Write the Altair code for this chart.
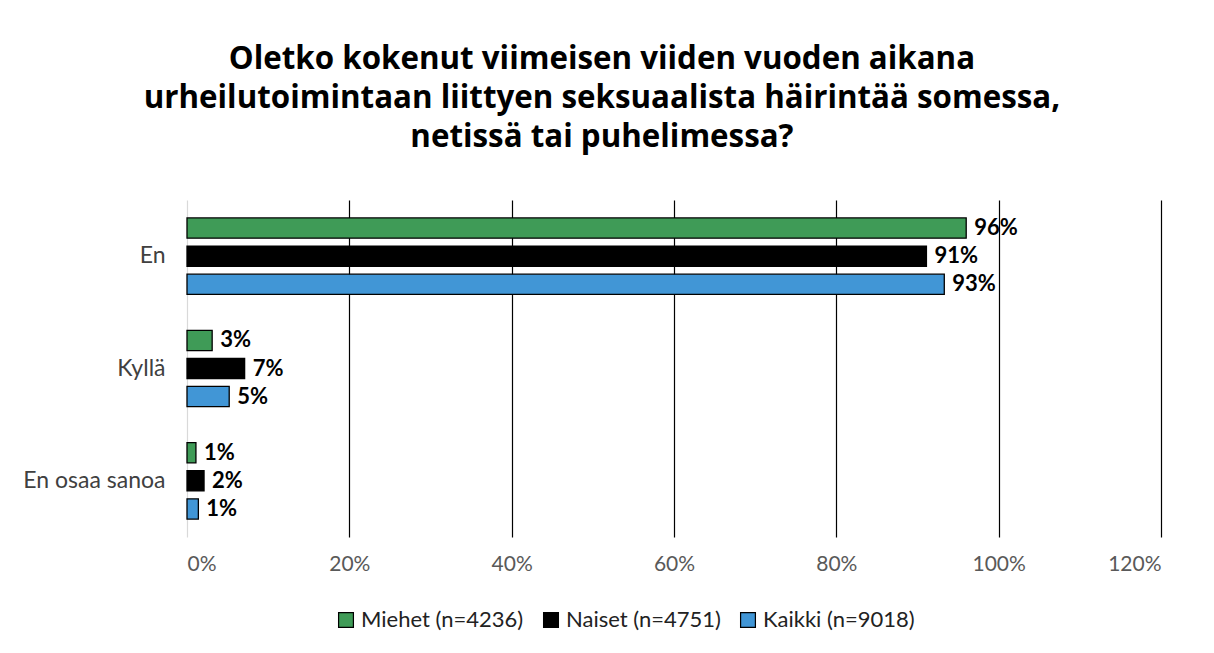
import altair as alt
import pandas as pd

categories = ["En", "Kyllä", "En osaa sanoa"]
series = ["Miehet (n=4236)", "Naiset (n=4751)", "Kaikki (n=9018)"]
miehet = [96.0, 3.1, 1.1]
naiset = [91.1, 7.1, 2.1]
kaikki = [93.3, 5.2, 1.4]
labels_m = ["96%", "3%", "1%"]
labels_n = ["91%", "7%", "2%"]
labels_k = ["93%", "5%", "1%"]
colors = ["#3f9b57", "#000000", "#4196d6"]

rows = []
for s, vals, labs in zip(series, [miehet, naiset, kaikki], [labels_m, labels_n, labels_k]):
    for c, v, l in zip(categories, vals, labs):
        rows.append({"cat": c, "series": s, "value": v / 100.0, "label": l})
df = pd.DataFrame(rows)

FONT = "Lato"

y_enc = alt.Y("cat:N", sort=categories, title=None,
              scale=alt.Scale(paddingInner=0.25, paddingOuter=0.125),
              axis=alt.Axis(labelFontSize=23, labelColor="#404040", labelFont=FONT,
                            ticks=False, domain=False, labelPadding=22))
yoff = alt.YOffset("series:N", sort=series,
                   scale=alt.Scale(paddingInner=0.28, paddingOuter=0.14))

bars = alt.Chart(df).mark_bar(stroke="black", strokeWidth=1.3).encode(
    x=alt.X("value:Q", title=None,
            scale=alt.Scale(domain=[0, 1.2], nice=False),
            axis=alt.Axis(format="%", values=[0, 0.2, 0.4, 0.6, 0.8, 1.0, 1.2],
                          labelFontSize=21, labelColor="#595959", labelFont=FONT,
                          ticks=False, domain=False, labelPadding=16,
                          gridColor=alt.condition("datum.value == 0", alt.value("#d9d9d9"), alt.value("#000000")),
                          gridWidth=1.2)),
    y=y_enc,
    yOffset=yoff,
    color=alt.Color("series:N", sort=series,
                    scale=alt.Scale(domain=series, range=colors),
                    legend=alt.Legend(orient="none", legendX=148, legendY=409,
                                      direction="horizontal", title=None, symbolType="square",
                                      symbolSize=220, symbolStrokeColor="black",
                                      symbolStrokeWidth=1.2, labelFontSize=22,
                                      labelFont=FONT, labelColor="#222222", labelLimit=400,
                                      columnPadding=16, labelOffset=4)),
)

text = alt.Chart(df).mark_text(align="left", baseline="middle", dx=8, fontSize=22,
                               fontWeight="bold", font=FONT, color="black").encode(
    x="value:Q",
    y=alt.Y("cat:N", sort=categories),
    yOffset=alt.YOffset("series:N", sort=series),
    text="label:N",
)

chart = alt.layer(bars, text).properties(
    width=974, height=337,
    autosize=alt.AutoSizeParams(type="none"),
    padding={"left": 179, "top": 192, "right": 45, "bottom": 100},
    title=alt.Title(
        ["Oletko kokenut viimeisen viiden vuoden aikana",
         "urheilutoimintaan liittyen seksuaalista häirintää somessa,",
         "netissä tai puhelimessa?"],
        fontSize=31.3, font="Open Sans", fontWeight="bold", color="#000000",
        anchor="middle", lineHeight=39, offset=47, frame="bounds", dx=10),
).configure_view(stroke=None)

chart.save("out.html", embed_options={"renderer": "svg", "actions": False})
